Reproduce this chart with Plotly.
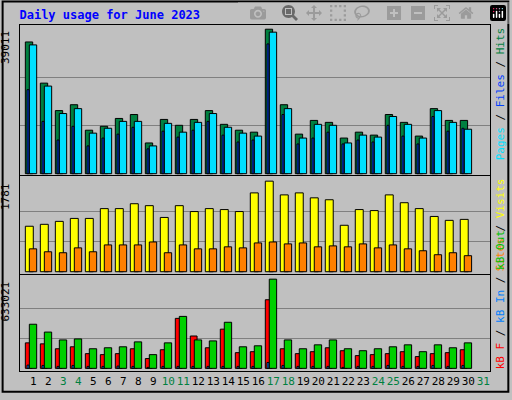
import plotly.graph_objects as go

days = list(range(1, 32))
d30 = list(range(1, 31))
hits = [35569,24448,17034,18623,11739,12798,14916,15975,8297,14651,13063,14651,17034,13327,11739,11209,39011,18623,10680,14386,13857,9620,11209,10415,15975,13857,10150,17564,14386,14386]
files = [34775,23654,16240,17564,10944,12268,14122,14122,7502,13592,11209,13857,16240,12533,10944,10150,38217,17564,9620,13327,13063,8297,10415,9885,15446,13327,9620,17034,13857,12003]
pages = [22683,14122,9091,12798,7502,9620,10680,12533,6708,11474,9885,11739,14122,10415,8561,9091,35040,15975,8032,9620,11209,8032,9091,8561,13063,10150,8032,15446,11474,12268]
visits = [894,932,990,1048,1048,1241,1241,1337,1299,1067,1299,1183,1241,1222,1183,1550,1781,1511,1550,1453,1415,913,1222,1202,1511,1357,1241,1087,1010,1029]
sites = [450,392,373,469,392,527,527,527,585,373,527,450,450,489,469,566,585,547,566,489,508,489,547,469,527,450,412,334,373,315]
kb_f = [180882,173925,139140,153054,104355,97398,104355,139140,69570,132183,354807,229581,146097,278280,111312,118269,486990,139140,104355,118269,146097,125226,90441,97398,104355,118269,83484,104355,111312,132183]
kb_in = [23190,20871,13914,20871,13914,13914,16233,13914,6957,13914,13914,13914,13914,13914,13914,13914,41742,20871,13914,13914,13914,6957,13914,13914,20871,13914,13914,20871,13914,20871]
kb_out = [313065,257409,201753,208710,139140,146097,153054,187839,97398,180882,368721,201753,194796,326979,153054,160011,633021,201753,139140,166968,201753,139140,125226,139140,153054,166968,118269,166968,146097,180882]
weekends = [3,4,10,11,17,18,24,25,31]
max_hits, max_visits, max_kb = 39011, 1781, 633021

fig = go.Figure()
ln = dict(color="black", width=1)
def bar(y, color, off, w, ax):
    fig.add_trace(go.Bar(x=d30, y=y, offset=off, width=w, marker=dict(color=color, line=ln),
                         xaxis="x" if ax == 1 else "x%d" % ax, yaxis="y" if ax == 1 else "y%d" % ax))
bar(hits, "#008040", -0.533, 0.49, 1)
bar(files, "#00E0FF", -0.267, 0.49, 1)
bar(pages, "#0040FF", -0.42, 0.13, 1)
bar(visits, "#FFFF00", -0.533, 0.53, 2)
bar(sites, "#FF8000", -0.267, 0.49, 2)
bar(kb_f, "#FF0000", -0.533, 0.45, 3)
bar(kb_out, "#00D000", -0.267, 0.49, 3)
bar(kb_in, "#0080FF", -0.42, 0.13, 3)

mono = "DejaVu Sans Mono"
xr = [0.111, 31.45]
ticktext = [('<span style="color:#008040">%d</span>' % d) if d in weekends else str(d) for d in days]
common_x = dict(range=xr, showgrid=False, zeroline=False, showline=True, linecolor="black", mirror=True, fixedrange=True)
def yax(dom, mx, lo, hi):
    return dict(domain=dom, range=[lo, hi], tickvals=[mx / 3, 2 * mx / 3], showticklabels=False, ticks="",
                gridcolor="#808080", gridwidth=1, zeroline=False, showline=True, linecolor="black", mirror=True)
fig.update_layout(
    width=512, height=400, margin=dict(l=20, r=22, t=25, b=22),
    paper_bgcolor="#C0C0C0", plot_bgcolor="#C0C0C0", barmode="overlay", showlegend=False,
    font=dict(family=mono, size=11, color="black"),
    xaxis=dict(**common_x, showticklabels=False, anchor="y"),
    xaxis2=dict(**common_x, showticklabels=False, anchor="y2", matches="x"),
    xaxis3=dict(**common_x, anchor="y3", matches="x", tickvals=days, ticktext=ticktext, ticks="",
                tickangle=0, tickfont=dict(family=mono, size=11)),
    yaxis=yax([0.5666, 1], max_hits, -344, 40149),
    yaxis2=yax([0.2805, 0.5637], max_visits, -44, 1883),
    yaxis3=yax([0, 0.2776], max_kb, -18781, 662932),
    title=dict(text="<b>Daily usage for June 2023</b>", x=0.038, xanchor="left", y=0.962, yanchor="middle",
               font=dict(family=mono, size=12, color="#0000FF")),
)
def vlabel(text, yref, y):
    fig.add_annotation(text=text, xref="paper", x=-0.013, xanchor="right", yref=yref, y=y, yanchor="top",
                       textangle=-90, showarrow=False, font=dict(family=mono, size=11))
vlabel(str(max_hits), "y", max_hits)
vlabel(str(max_visits), "y2", max_visits)
vlabel(str(max_kb), "y3", max_kb)
def c(t, col): return '<span style="color:%s">%s</span>' % (col, t)
fig.add_annotation(text=c("Pages", "#00E0FF") + " / " + c("Files", "#0040FF") + " / " + c("Hits", "#008040"),
                   xref="paper", x=1.005, xanchor="left", yref="paper", y=1.0, yanchor="top",
                   textangle=-90, showarrow=False, font=dict(family=mono, size=11))
fig.add_annotation(text=c("Sites", "#FF8000") + " / " + c("Visits", "#FFFF00"),
                   xref="paper", x=1.005, xanchor="left", yref="paper", y=0.5637, yanchor="top",
                   textangle=-90, showarrow=False, font=dict(family=mono, size=11))
fig.add_annotation(text=c("kB F", "#FF0000") + " / " + c("kB In", "#0080FF") + " / " + c("kB Out", "#00C000"),
                   xref="paper", x=1.005, xanchor="left", yref="paper", y=0.0, yanchor="bottom",
                   textangle=-90, showarrow=False, font=dict(family=mono, size=11))
fig.add_shape(type="rect", xref="paper", yref="paper", x0=-0.037, x1=1.039, y0=-0.060, y1=1.068,
              line=dict(color="black", width=2))
fig.write_html("out.html", post_script="document.body.style.margin='0';document.body.style.overflow='hidden';")
